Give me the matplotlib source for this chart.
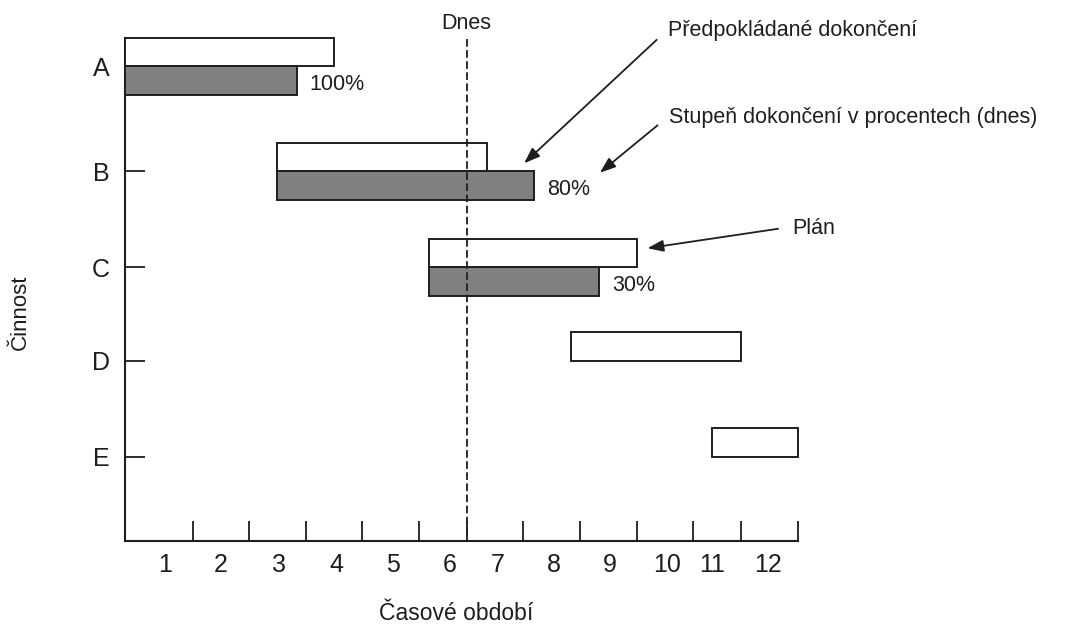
import matplotlib
matplotlib.use("Agg")
import matplotlib.pyplot as plt

plt.rcParams['font.family'] = ['Liberation Sans', 'DejaVu Sans']
plt.rcParams['lines.scale_dashes'] = False

# ---- data ----
activities = ['A', 'B', 'C', 'D', 'E']
plan_start = [0.0, 2.72, 5.43, 7.96, 10.48]
plan_end = [3.73, 6.45, 9.13, 10.99, 12.0]
actual_end = [3.07, 7.30, 8.46, None, None]
percent_done = [100, 80, 30, None, None]
period_labels = ['1', '2', '3', '4', '5', '6', '7', '8', '9', '10', '11', '12']
today = 6.095

# ---- layout (positions) ----
row_y = [0.0, 1.106, 2.115, 3.103, 4.11]
period_bounds = [1.208, 2.217, 3.223, 4.233, 5.244, 6.095, 7.105, 8.116,
                 9.128, 10.137, 10.988, 12.0]
label_pos = [0.714, 1.707, 2.752, 3.763, 4.775, 5.785, 6.648, 7.653,
             8.652, 9.663, 10.476, 11.475]

ink = '#1e1e1e'
fig = plt.figure(figsize=(10.68, 6.25), dpi=100)
ax = fig.add_axes([125 / 1068, 1 - 541 / 625, (797.7 - 125) / 1068, (541 - 38) / 625])
ax.set_xlim(0, 12)
ax.set_ylim(5.0, -0.3)

for s in ['top', 'right']:
    ax.spines[s].set_visible(False)
for s in ['left', 'bottom']:
    ax.spines[s].set_linewidth(1.5)
    ax.spines[s].set_color(ink)

# plan bars (above the tick)
plan_bars = ax.barh(row_y, [e - s for s, e in zip(plan_start, plan_end)],
                    left=plan_start, height=-0.30, align='edge', color='white',
                    edgecolor=ink, linewidth=1.4, zorder=3)
# actual bars (below the tick)
idx = [i for i, v in enumerate(actual_end) if v is not None]
act_bars = ax.barh([row_y[i] for i in idx],
                   [actual_end[i] - plan_start[i] for i in idx],
                   left=[plan_start[i] for i in idx], height=0.305,
                   align='edge', color='#808080', edgecolor=ink,
                   linewidth=1.4, zorder=3)
for p in list(plan_bars) + list(act_bars):
    p.set_clip_on(False)
for i in idx:
    ax.annotate(f'{percent_done[i]}%', xy=(actual_end[i], row_y[i] + 0.19),
                xytext=(9, 0), textcoords='offset points', va='center',
                ha='left', fontsize=15.5, color=ink)

# today line
ax.plot([today, today], [-0.285, 5.0], color=ink, lw=1.3,
        dashes=(5.5, 2.5), zorder=4, clip_on=False)
ax.text(today, -0.45, 'Dnes', ha='center', va='center', fontsize=15.5,
        color=ink, clip_on=False)

# ticks
ax.set_xticks(period_bounds)
ax.set_xticklabels([])
ax.set_xticks(label_pos, minor=True)
ax.set_xticklabels(period_labels, minor=True, fontsize=18, color=ink)
ax.tick_params(axis='x', which='major', direction='in', length=14.5,
               width=1.3, color=ink)
ax.tick_params(axis='x', which='minor', length=0, pad=9)
ax.set_yticks(row_y)
ax.set_yticklabels(activities, fontsize=18, color=ink)
ax.tick_params(axis='y', direction='in', length=14.5, width=1.3,
               color=ink, pad=11)

# annotations
arrow = dict(arrowstyle='-|>,head_length=0.6,head_width=0.22',
             mutation_scale=16, color=ink, lw=1.3, shrinkA=0, shrinkB=0)
ax.annotate('', xy=(7.12, 1.02), xytext=(9.485, -0.281), arrowprops=arrow,
            annotation_clip=False)
ax.text(9.68, -0.38, 'Předpokládané dokončení', ha='left', va='center',
        fontsize=15.5, color=ink, clip_on=False)
ax.annotate('', xy=(8.47, 1.12), xytext=(9.50, 0.62), arrowprops=arrow,
            annotation_clip=False)
ax.text(9.70, 0.54, 'Stupeň dokončení v procentech (dnes)', ha='left',
        va='center', fontsize=15.5, color=ink, clip_on=False)
ax.annotate('', xy=(9.32, 1.915), xytext=(11.65, 1.71), arrowprops=arrow,
            annotation_clip=False)
ax.text(11.90, 1.71, 'Plán', ha='left', va='center', fontsize=15.5,
        color=ink, clip_on=False)

# axis titles
fig.text(456 / 1068, 1 - 613 / 625, 'Časové období', ha='center',
         va='center', fontsize=16.5, color=ink)
fig.text(20 / 1068, 1 - 312 / 625, 'Činnost', ha='center', va='center',
         rotation=90, fontsize=16, color=ink)

fig.savefig('out.png', dpi=100)
